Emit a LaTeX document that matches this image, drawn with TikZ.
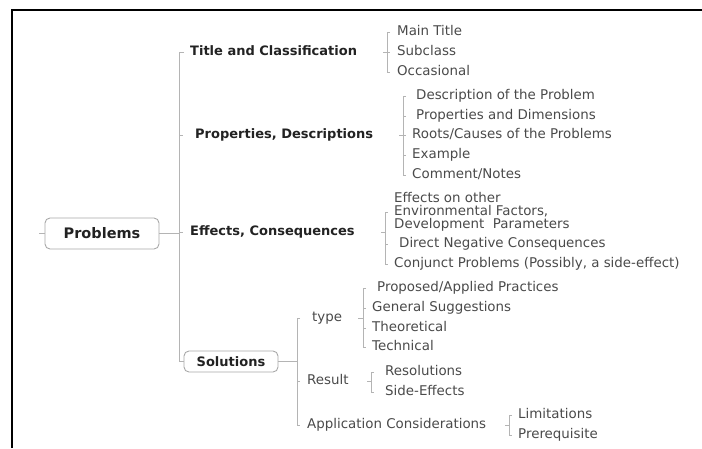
\documentclass[tikz,border=0pt]{standalone}
\usepackage{fontspec}
\setmainfont{DejaVu Sans}
\usetikzlibrary{calc}
\definecolor{linegray}{HTML}{B4B4B4}
\definecolor{leaftext}{HTML}{4A4A4A}
\definecolor{boldtext}{HTML}{222222}
\definecolor{boxgray}{HTML}{A8A8A8}
\tikzset{
  leaf/.style={anchor=west, inner sep=0pt, text=leaftext, font=\fontsize{13.4}{13.4}\selectfont, text height=9.8pt, text depth=2.6pt},
  mid/.style={anchor=west, inner sep=0pt, text=boldtext, font=\fontsize{13}{13}\selectfont\bfseries, text height=9.5pt, text depth=2.5pt},
  boxnode/.style={draw=boxgray, line width=0.9pt, rounded corners=5pt, text=boldtext, font=\fontsize{13}{13}\selectfont\bfseries, inner sep=0pt},
  br/.style={draw=linegray, line width=0.9pt},
  frame/.style={draw=black, line width=1.6pt}
}
\begin{document}
\begin{tikzpicture}[x=1pt,y=-1pt]
\useasboundingbox (0,0) rectangle (702,448);
% frame
\draw[frame] (12,448) -- (12,10) -- (702,10);

% root
\node[boxnode, minimum width=114pt, minimum height=31pt, font=\fontsize{14.5}{14.5}\selectfont\bfseries] (prob) at (102,233.5) {Problems};
\coordinate (stub) at (39,233.5);
\draw[br] (stub) -- (prob.west);

% level 1
\node[mid] (title) at (190,52) {Title and Classification};
\node[mid] (props) at (195,135) {Properties, Descriptions};
\node[mid] (effects) at (190,232) {Effects, Consequences};
\node[boxnode, minimum width=94pt, minimum height=21pt] (sol) at (231,361.5) {Solutions};

\coordinate (trunk) at (179,0);
\draw[br] ($(trunk|-title.west)+(5,0)$) -- (trunk|-title.west) -- (trunk|-sol.west) -- (sol.west);
\draw[br] (trunk|-props.west) -- ++(4,0);
\draw[br] (trunk|-effects.west) -- ++(4,0);
\draw[br] (prob.east) -- (trunk|-prob.east);

% Title group
\node[leaf] (t1) at (397,32) {Main Title};
\node[leaf] (t2) at (397,52) {Subclass};
\node[leaf] (t3) at (397,72) {Occasional};
\coordinate (bt) at (387,0);
\draw[br] ($(bt|-t1.west)+(3,0)$) -- (bt|-t1.west) -- (bt|-t3.west) -- ++(3,0);
\draw[br] ($(bt|-t2.west)+(-4,0)$) -- ++(7,0);

% Properties group
\node[leaf] (p1) at (416,96) {Description of the Problem};
\node[leaf] (p2) at (416,116) {Properties and Dimensions};
\node[leaf] (p3) at (412,135) {Roots/Causes of the Problems};
\node[leaf] (p4) at (412,155) {Example};
\node[leaf] (p5) at (412,175) {Comment/Notes};
\coordinate (bp) at (403,0);
\draw[br] ($(bp|-p1.west)+(3,0)$) -- (bp|-p1.west) -- (bp|-p5.west) -- ++(3,0);
\draw[br] (bp|-p2.west) -- ++(3,0);
\draw[br] ($(bp|-p3.west)+(-4,0)$) -- ++(7,0);
\draw[br] (bp|-p4.west) -- ++(3,0);

% Effects group
\node[leaf, align=left, text height=, text depth=, font=\fontsize{13.4}{13.2}\selectfont] (e1) at (394,212) {Effects on other\\Environmental Factors,\\Development~ Parameters};
\node[leaf] (e2) at (399,244) {Direct Negative Consequences};
\node[leaf] (e3) at (394,264) {Conjunct Problems (Possibly, a side-effect)};
\coordinate (be) at (385,0);
\draw[br] ($(be|-e1.west)+(3,0)$) -- (be|-e1.west) -- (be|-e3.west) -- ++(3,0);
\draw[br] (be|-e2.west) -- ++(3,0);
\draw[br] ($(be|-effects.east)+(-4,0)$) -- (be|-effects.east);

% Solutions group
\node[leaf] (s1) at (312,318) {type};
\node[leaf] (s2) at (307,381) {Result};
\node[leaf] (s3) at (307,425) {Application Considerations};
\coordinate (bs) at (297,0);
\draw[br] ($(bs|-s1.west)+(3,0)$) -- (bs|-s1.west) -- (bs|-s3.west) -- ++(3,0);
\draw[br] (bs|-s2.west) -- ++(3,0);
\draw[br] (sol.east) -- (bs|-sol.east);

% type group
\node[leaf] (ty1) at (377,288) {Proposed/Applied Practices};
\node[leaf] (ty2) at (372,308) {General Suggestions};
\node[leaf] (ty3) at (372,328) {Theoretical};
\node[leaf] (ty4) at (372,347) {Technical};
\coordinate (bty) at (363,0);
\draw[br] ($(bty|-ty1.west)+(3,0)$) -- (bty|-ty1.west) -- (bty|-ty4.west) -- ++(3,0);
\draw[br] (bty|-ty2.west) -- ++(3,0);
\draw[br] (bty|-ty3.west) -- ++(3,0);
\draw[br] ($(bty|-s1.east)+(-5,0)$) -- (bty|-s1.east);

% Result group
\node[leaf] (r1) at (385,372) {Resolutions};
\node[leaf] (r2) at (385,392) {Side-Effects};
\coordinate (brr) at (371,0);
\draw[br] ($(brr|-r1.west)+(3,0)$) -- (brr|-r1.west) -- (brr|-r2.west) -- ++(3,0);
\draw[br] ($(brr|-s2.east)+(-4,0)$) -- (brr|-s2.east);

% Application group
\node[leaf] (a1) at (518,415) {Limitations};
\node[leaf] (a2) at (518,435) {Prerequisite};
\coordinate (ba) at (509,0);
\draw[br] ($(ba|-a1.west)+(3,0)$) -- (ba|-a1.west) -- (ba|-a2.west) -- ++(3,0);
\draw[br] ($(ba|-s3.east)+(-4,0)$) -- (ba|-s3.east);
\end{tikzpicture}
\end{document}
